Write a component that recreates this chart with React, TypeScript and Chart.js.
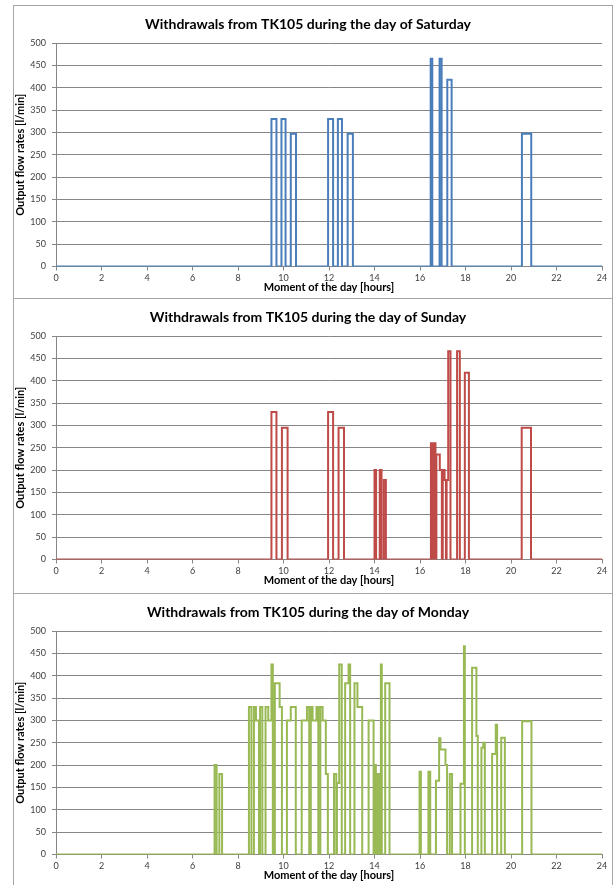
import React, { useEffect, useRef } from "react";
import { Chart, registerables } from "chart.js";

Chart.register(...registerables);

const FONT = "Lato, 'Open Sans', sans-serif";

// Hours of the day and output flow (l/min) starting at each hour mark (step function)
const saturdayTimes = [0, 9.47, 9.69, 9.91, 10.09, 10.32, 10.55, 11.96, 12.18, 12.39, 12.57, 12.82, 13.05, 16.47, 16.54, 16.86, 16.95, 17.2, 17.39, 20.48, 20.89, 24];
const saturdayFlows = [0, 330, 0, 330, 0, 297, 0, 330, 0, 330, 0, 297, 0, 465, 0, 465, 0, 418, 0, 297, 0, 0];

const sundayTimes = [0, 9.47, 9.69, 9.93, 10.18, 11.96, 12.18, 12.42, 12.66, 14.0, 14.07, 14.23, 14.31, 14.41, 14.5, 16.48, 16.53, 16.6, 16.68, 16.72, 16.87, 16.96, 17.0, 17.08, 17.14, 17.17, 17.24, 17.34, 17.63, 17.75, 17.97, 18.15, 20.47, 20.88, 24];
const sundayFlows = [0, 330, 0, 295, 0, 330, 0, 295, 0, 200, 0, 200, 0, 178, 0, 260, 0, 260, 0, 235, 200, 0, 200, 178, 0, 178, 466, 0, 466, 0, 418, 0, 295, 0, 0];

const mondayTimes = [0, 6.97, 7.06, 7.18, 7.3, 8.48, 8.59, 8.7, 8.79, 8.92, 8.97, 9.07, 9.21, 9.33, 9.47, 9.53, 9.62, 9.83, 9.93, 10.15, 10.32, 10.54, 10.8, 11.03, 11.13, 11.2, 11.28, 11.45, 11.53, 11.62, 11.72, 11.86, 11.95, 12.22, 12.32, 12.35, 12.45, 12.56, 12.71, 12.86, 12.93, 13.12, 13.25, 13.46, 13.74, 13.96, 13.99, 14.06, 14.13, 14.22, 14.28, 14.32, 14.47, 14.66, 15.98, 16.04, 16.37, 16.45, 16.7, 16.84, 16.9, 17.12, 17.19, 17.31, 17.41, 17.78, 17.93, 17.97, 18.29, 18.48, 18.54, 18.7, 18.78, 18.85, 19.17, 19.33, 19.39, 19.57, 19.73, 20.49, 20.9, 24];
const mondayFlows = [0, 200, 0, 180, 0, 330, 0, 330, 300, 0, 330, 0, 330, 300, 425, 0, 383, 330, 0, 300, 330, 0, 300, 330, 0, 330, 300, 330, 0, 330, 300, 180, 0, 180, 0, 160, 425, 0, 383, 425, 0, 383, 330, 0, 300, 0, 200, 0, 180, 0, 425, 0, 383, 0, 185, 0, 185, 0, 165, 260, 235, 200, 0, 180, 0, 158, 466, 0, 418, 265, 0, 239, 250, 0, 225, 290, 0, 261, 0, 298, 0, 0];

const dayNames = ["Saturday", "Sunday", "Monday"];
const lineColors = ["#4A7EBB", "#BE4B48", "#98B954"];
const panelTops = [5, 298, 593];
const panelHeights = [294, 296, 294];

const GRID = "#868686";

function FlowChart(props: { title: string; times: number[]; flows: number[]; color: string; innerH: number }) {
  const ref = useRef<HTMLCanvasElement>(null);
  useEffect(() => {
    const { title, times, flows, color, innerH } = props;
    const data = times.map((t, i) => ({ x: t, y: flows[i] }));
    const xScaleH = innerH - 260.5;
    const chart = new Chart(ref.current as HTMLCanvasElement, {
      type: "line",
      data: {
        datasets: [
          {
            data,
            borderColor: color,
            borderWidth: 2,
            pointRadius: 0,
            stepped: true,
            fill: false,
          } as any,
        ],
      },
      options: {
        animation: false,
        responsive: true,
        maintainAspectRatio: false,
        layout: { padding: { left: 0, right: 10, top: 0, bottom: 0 } },
        plugins: {
          legend: { display: false },
          tooltip: { enabled: false },
          title: {
            display: true,
            text: title,
            color: "#000",
            font: { family: FONT, size: 14, weight: "bold" },
            padding: { top: 10, bottom: 10.2 },
          },
        },
        scales: {
          x: {
            type: "linear",
            min: 0,
            max: 24,
            ticks: {
              stepSize: 2,
              autoSkip: false,
              maxRotation: 0,
              padding: 2,
              color: "#404040",
              font: { family: FONT, size: 9 },
            },
            grid: { drawOnChartArea: false, drawTicks: true, tickLength: 4, tickColor: GRID },
            border: { color: GRID },
            title: {
              display: true,
              text: "Moment of the day [hours]",
              color: "#000",
              font: { family: FONT, size: 11, weight: "bold" },
              padding: { top: 0, bottom: xScaleH - 21 - 6.6 },
            },
            afterFit: (s: any) => {
              s.height = xScaleH;
            },
          },
          y: {
            min: 0,
            max: 500,
            ticks: {
              stepSize: 50,
              padding: 6,
              color: "#404040",
              font: { family: FONT, size: 9 },
            },
            grid: { color: GRID, tickLength: 4, tickColor: GRID },
            border: { color: GRID },
            title: {
              display: true,
              text: "Output flow rates [l/min]",
              color: "#000",
              font: { family: FONT, size: 11, weight: "bold" },
              padding: { top: 0, bottom: 0 },
            },
            afterFit: (s: any) => {
              s.width = 42;
            },
          },
        },
      } as any,
    });
    return () => chart.destroy();
  }, []);
  return <canvas ref={ref} />;
}

const allTimes = [saturdayTimes, sundayTimes, mondayTimes];
const allFlows = [saturdayFlows, sundayFlows, mondayFlows];

export default function App() {
  return (
    <div style={{ position: "absolute", left: 0, top: 0, width: 616, height: 885, overflow: "hidden", background: "#fff" }}>
      {dayNames.map((d, i) => (
        <div
          key={d}
          style={{
            position: "absolute",
            left: 13,
            top: panelTops[i],
            width: 600,
            height: panelHeights[i],
            border: "1px solid #a6a6a6",
            boxSizing: "border-box",
            background: "#fff",
          }}
        >
          <div style={{ position: "relative", width: 598, height: panelHeights[i] - 2 }}>
            <FlowChart
              title={"Withdrawals from TK105 during the day of " + d}
              times={allTimes[i]}
              flows={allFlows[i]}
              color={lineColors[i]}
              innerH={panelHeights[i] - 2}
            />
          </div>
        </div>
      ))}
    </div>
  );
}
